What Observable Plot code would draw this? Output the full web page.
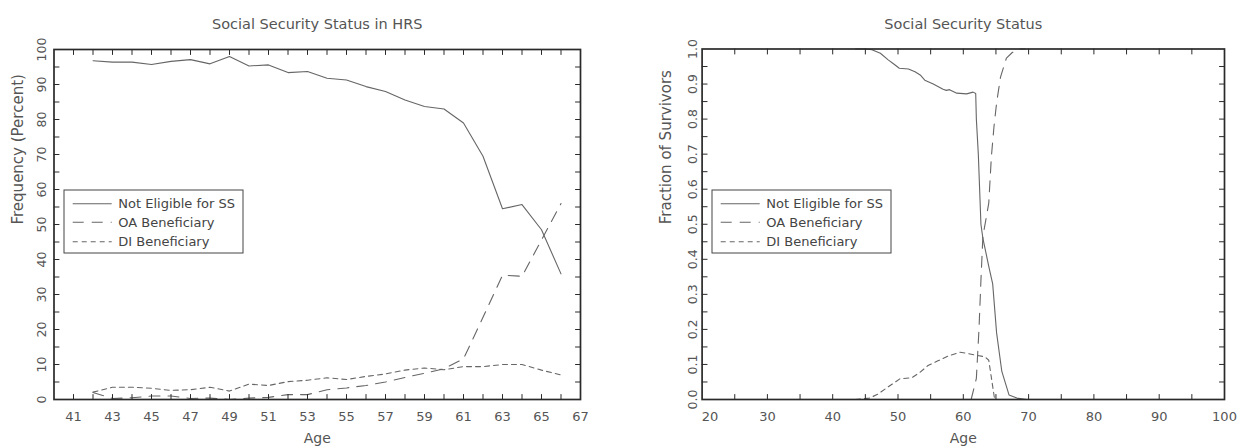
<!DOCTYPE html>
<html><head><meta charset="utf-8">
<script src="https://cdn.jsdelivr.net/npm/d3@7"></script>
<script src="https://cdn.jsdelivr.net/npm/@observablehq/plot@0.6"></script>
<style>
body{margin:0;background:#fff;}
#wrap{display:flex;width:1244px;height:448px;}
.panel{position:relative;width:622px;height:448px;}
.panel svg.legend{position:absolute;}
</style></head><body>
<div id="wrap"><div class="panel" id="p1"></div><div class="panel" id="p2"></div></div>
<script>
// ---- Left chart: Social Security Status in HRS (percent by age) ----
const hrsAges = [42,43,44,45,46,47,48,49,50,51,52,53,54,55,56,57,58,59,60,61,62,63,64,65,66];
const hrsNotEligible = [96.8,96.4,96.4,95.7,96.6,97.1,95.9,98.0,95.3,95.6,93.4,93.7,91.8,91.3,89.4,88.0,85.6,83.7,83.0,79.0,69.5,54.5,55.7,48.5,35.9];
const hrsOA = [2.0,0.3,0.5,1.0,1.0,0.3,0.4,0.0,0.4,0.6,1.4,1.4,2.8,3.3,4.0,5.0,6.3,7.5,8.8,11.6,23.5,35.5,35.2,45.6,56.0];
const hrsDI = [2.1,3.5,3.5,3.2,2.6,2.8,3.5,2.4,4.4,4.0,5.1,5.5,6.2,5.7,6.6,7.3,8.4,9.0,8.5,9.4,9.4,10.0,10.0,8.4,7.0];
const hrsXLabels = [41,43,45,47,49,51,53,55,57,59,61,63,65,67];
const hrsYLabels = [0,10,20,30,40,50,60,70,80,90,100];

// ---- Right chart: Social Security Status (fraction of survivors) ----
const simNEAge = [43.5,45,46,47.3,48.5,49.3,50.2,51.6,52.6,53.4,54.1,55.4,56.9,57.4,57.9,59.0,60.5,61.5,61.9,62.0,62.3,62.7,63.0,63.9,64.5,65.1,65.9,67.0,68.2,69.7];
const simNEVal = [1.0,1.0,0.998,0.988,0.969,0.958,0.945,0.943,0.935,0.926,0.911,0.900,0.885,0.882,0.884,0.874,0.872,0.877,0.873,0.80,0.70,0.50,0.46,0.38,0.33,0.19,0.08,0.013,0.004,0.0];
const simOAAge = [61.2,62.0,62.4,62.7,63.0,63.9,64.3,64.7,65.1,65.7,66.6,67.5,68.5,69.5];
const simOAVal = [0.0,0.06,0.2,0.34,0.465,0.56,0.693,0.779,0.846,0.92,0.974,0.99,1.0,1.0];
const simDIAge = [43.5,45.6,46.8,48.8,50.3,52.1,53.4,54.6,56.2,57.7,59.5,60.5,62.0,63.3,63.9,64.4,64.8];
const simDIVal = [0.0,0.004,0.014,0.04,0.059,0.062,0.078,0.097,0.111,0.124,0.135,0.132,0.126,0.122,0.112,0.05,0.0];
const simXLabels = [20,30,40,50,60,70,80,90,100];
const simYLabels = [0,0.1,0.2,0.3,0.4,0.5,0.6,0.7,0.8,0.9,1.0];

const seriesNames = ["Not Eligible for SS","OA Beneficiary","DI Beneficiary"];
const dashes = [null,"11,8","5,4"];

const FONT = "DejaVu Sans, sans-serif";
const AX = "#2a2a2a";
const LINE = "#666";
const TXT = "#555";
const tickShape = {draw(ctx, l){ ctx.moveTo(0,0); ctx.lineTo(0,-l); }};

function inwardTicks(xv, yv, len) {
  const o = {length: len, anchor: "start", shape: tickShape, stroke: AX, strokeWidth: 1};
  return [
    Plot.vectorX(xv, {...o, x: d => d, frameAnchor: "bottom", rotate: 0}),
    Plot.vectorX(xv, {...o, x: d => d, frameAnchor: "top", rotate: 180}),
    Plot.vectorY(yv, {...o, y: d => d, frameAnchor: "left", rotate: 90}),
    Plot.vectorY(yv, {...o, y: d => d, frameAnchor: "right", rotate: -90})
  ];
}

function seriesRows(xs, ys, name) { return xs.map((x, i) => ({x, y: ys[i], s: name})); }

function makeChart(cfg) {
  const xl = cfg.xlabels.filter(v => v !== cfg.shiftTick);
  return Plot.plot({
    width: 622, height: 448,
    marginLeft: cfg.ml, marginRight: cfg.mr, marginTop: cfg.mt, marginBottom: cfg.mb,
    style: {fontFamily: FONT, background: "#fff"},
    x: {domain: cfg.xdom},
    y: {domain: cfg.ydom},
    marks: [
      ...cfg.series.map((d, i) => Plot.line(d, {x: "x", y: "y", stroke: LINE, strokeWidth: 1.1, strokeDasharray: dashes[i], curve: "linear"})),
      Plot.frame({stroke: AX, strokeWidth: 1.7}),
      ...inwardTicks(cfg.xminor, cfg.yminor, 5),
      Plot.axisX({ticks: xl, tickSize: 0, tickPadding: 12, fontSize: 13, color: TXT, tickFormat: d => String(d),
                  label: null}),
      ...(cfg.shiftTick != null ? [Plot.axisX({ticks: [cfg.shiftTick], tickSize: 0, tickPadding: 12, fontSize: 13, color: TXT, dx: 8, tickFormat: d => String(d), label: null})] : []),
      Plot.axisY({ticks: cfg.ylabels, tickSize: 0, tickPadding: cfg.ypad, tickRotate: -90, fontSize: 12.5, color: TXT, tickFormat: cfg.yfmt,
                  label: null}),
      Plot.text(["Age"], {frameAnchor: "bottom", dy: 43, fontSize: 14, fill: TXT, text: d => d}),
      Plot.text([cfg.ylabel], {frameAnchor: "left", dx: -cfg.ylabOff, rotate: -90, fontSize: 15, fill: TXT, text: d => d}),
      Plot.text([cfg.title], {frameAnchor: "top", dy: -30.5, fontSize: 14.5, fill: TXT, text: d => d, style: "letter-spacing:1.1px"})
    ]
  });
}

const left = makeChart({
  ml: 53.5, mr: 42, mt: 49, mb: 49,
  xdom: [40, 67], ydom: [0, 100],
  series: [seriesRows(hrsAges, hrsNotEligible, seriesNames[0]), seriesRows(hrsAges, hrsOA, seriesNames[1]), seriesRows(hrsAges, hrsDI, seriesNames[2])],
  xminor: d3.range(41, 67), yminor: d3.range(5, 100, 5),
  xlabels: hrsXLabels, ylabels: hrsYLabels, yfmt: d => String(d), ypad: 8,
  ylabel: "Frequency (Percent)", ylabOff: 36,
  title: "Social Security Status in HRS", shiftTick: null
});
const right = makeChart({
  ml: 79.6, mr: 20, mt: 48.5, mb: 49,
  xdom: [20, 100], ydom: [0, 1],
  series: [seriesRows(simNEAge, simNEVal, seriesNames[0]), seriesRows(simOAAge, simOAVal, seriesNames[1]), seriesRows(simDIAge, simDIVal, seriesNames[2])],
  xminor: d3.range(25, 100, 5), yminor: d3.range(1, 20).map(i => i * 0.05),
  xlabels: simXLabels, ylabels: simYLabels, yfmt: d3.format(".1f"), ypad: 5,
  ylabel: "Fraction of Survivors", ylabOff: 36,
  title: "Social Security Status", shiftTick: 20
});
document.getElementById("p1").appendChild(left);
document.getElementById("p2").appendChild(right);

function legend(panel, x0, y0) {
  const w = 179, h = 63;
  const svg = d3.select(panel).append("svg").attr("class", "legend")
    .attr("width", w + 2).attr("height", h + 2)
    .style("left", (x0 - 1) + "px").style("top", (y0 - 1) + "px");
  svg.append("rect").attr("x", 1).attr("y", 1).attr("width", w).attr("height", h)
    .attr("fill", "#fff").attr("stroke", "#444").attr("stroke-width", 1);
  const rows = [14.7, 33.3, 52.7];
  seriesNames.forEach((name, i) => {
    svg.append("line").attr("x1", 9.7).attr("x2", 48.7).attr("y1", rows[i]).attr("y2", rows[i])
      .attr("stroke", LINE).attr("stroke-width", 1.1).attr("stroke-dasharray", dashes[i]);
    svg.append("text").attr("x", 55.3).attr("y", rows[i]).attr("dy", "0.35em")
      .attr("font-family", FONT).attr("font-size", 13).attr("fill", "#444").text(name);
  });
}
legend(document.getElementById("p1"), 64, 190);
legend(document.getElementById("p2"), 90, 190);
</script>
</body></html>
